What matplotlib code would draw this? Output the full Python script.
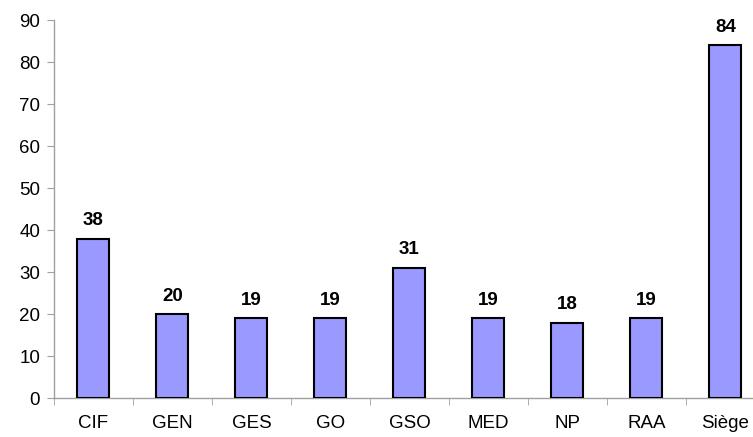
import matplotlib
matplotlib.use("Agg")
import matplotlib.pyplot as plt
import numpy as np

categories = ['CIF', 'GEN', 'GES', 'GO', 'GSO', 'MED', 'NP', 'RAA', 'Siège']
values = [38, 20, 19, 19, 31, 19, 18, 19, 84]
y_ticks = [0, 10, 20, 30, 40, 50, 60, 70, 80, 90]

plt.rcParams['font.family'] = ['Liberation Sans', 'DejaVu Sans']

fig = plt.figure(figsize=(7.53, 4.37), dpi=100)
ax = fig.add_axes([0.0717, 0.0886, 0.944, 0.865])

x = np.arange(len(categories))
ax.bar(x, values, width=0.405, color='#9999FF', edgecolor='black', linewidth=1.5, zorder=3)

for xi, v in zip(x, values):
    ax.annotate(str(v), (xi, v), textcoords='offset points', xytext=(0, 7),
                ha='center', va='bottom', fontsize=13.5, fontweight='bold')

ax.set_xlim(-0.5, len(categories) - 0.5)
ax.set_ylim(0, 90)
ax.set_yticks(y_ticks)

# category labels centred, ticks at the boundaries
ax.set_xticks(x)
ax.set_xticklabels(categories)
ax.set_xticks(np.arange(len(categories) + 1) - 0.5, minor=True)
ax.tick_params(axis='x', which='major', length=0, pad=12, labelsize=13.5)
ax.tick_params(axis='x', which='minor', length=5, color='#a0a0a0', direction='out')
ax.tick_params(axis='y', length=5, color='#a0a0a0', labelsize=13.5, pad=5)

for side in ['top', 'right']:
    ax.spines[side].set_visible(False)
for side in ['left', 'bottom']:
    ax.spines[side].set_color('#a0a0a0')
    ax.spines[side].set_linewidth(1.0)

plt.savefig('out.png', dpi=100)
